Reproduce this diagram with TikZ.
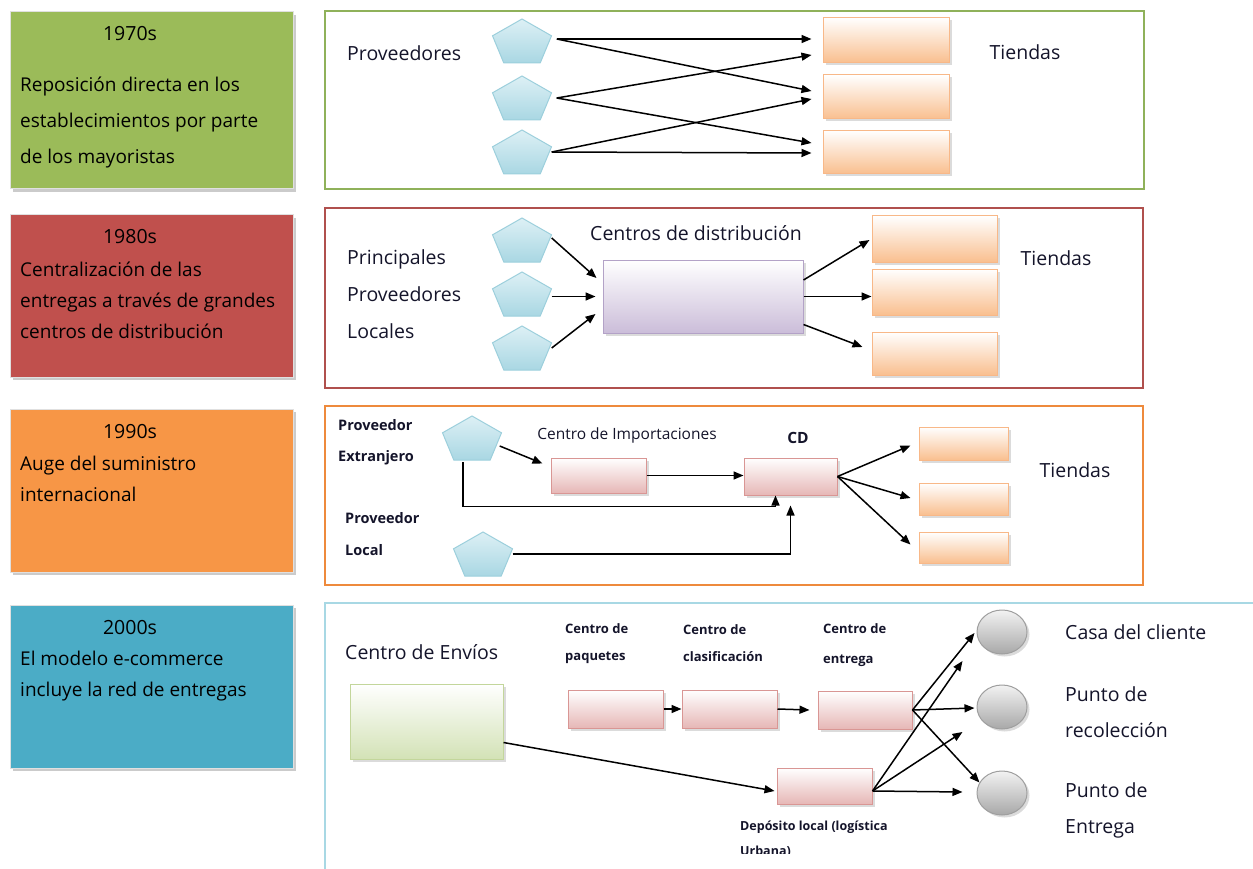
\documentclass[tikz,border=0pt]{standalone}
\usepackage{fontspec}
\setmainfont{Open Sans}
\usetikzlibrary{arrows.meta,calc,shadows,shapes.geometric}

\definecolor{eraGreen}{HTML}{9BBB59}
\definecolor{eraRed}{HTML}{C0504D}
\definecolor{eraOrange}{HTML}{F79646}
\definecolor{eraBlue}{HTML}{4BACC6}
\definecolor{frameGreen}{HTML}{8FB15A}
\definecolor{frameRed}{HTML}{B0504D}
\definecolor{frameOrange}{HTML}{EE8A3C}
\definecolor{frameBlue}{HTML}{A8D8E4}
\definecolor{pentTop}{HTML}{DDF0F5}
\definecolor{pentBot}{HTML}{A9D7E3}
\definecolor{pentLine}{HTML}{9CCFDC}
\definecolor{shopBot}{HTML}{F9BF8F}
\definecolor{shopLine}{HTML}{F8B888}
\definecolor{pinkBot}{HTML}{E6B7B6}
\definecolor{pinkLine}{HTML}{D99694}
\definecolor{lilacBot}{HTML}{CBBDD9}
\definecolor{lilacLine}{HTML}{B3A2C7}
\definecolor{leafBot}{HTML}{D3E2B6}
\definecolor{leafLine}{HTML}{C3D69B}
\definecolor{inkText}{HTML}{14142A}

% pentagon drawn over an invisible anchor box
\newcommand\pentnode[3]{%
  \node[pentbox] (#1) at (#2,#3) {};
  \shade[pentfill] ($(#1.center)+(0pt,22pt)$) -- ($(#1.center)+(29.5pt,5.2pt)$)
    -- ($(#1.center)+(18.2pt,-22pt)$) -- ($(#1.center)+(-18.2pt,-22pt)$)
    -- ($(#1.center)+(-29.5pt,5.2pt)$) -- cycle;}

\begin{document}
\begin{tikzpicture}[x=1pt,y=-1pt,
  era/.style={rectangle, inner sep=0, minimum width=283, minimum height=#1,
    draw=white!88!black, line width=1pt,
    drop shadow={shadow xshift=3pt, shadow yshift=-3pt, fill=black!45, opacity=.45}},
  yeartxt/.style={font=\fontsize{19.5}{23}\selectfont, inner sep=0, text=black},
  eratxt/.style={font=\fontsize{19}{#1}\selectfont, inner sep=0, anchor=west, align=left, text=black},
  lbl/.style={font=\fontsize{19.5}{#1}\selectfont, inner sep=0, align=left, text=inkText},
  lbl/.default=23,
  small/.style={font=\bfseries\fontsize{14.5}{#1}\selectfont, inner sep=0, anchor=west, align=left, text=inkText},
  tiny/.style={font=\bfseries\fontsize{13}{#1}\selectfont, inner sep=0, anchor=west, align=left, text=inkText},
  pentbox/.style={rectangle, inner sep=0, minimum width=59, minimum height=44},
  pentfill/.style={top color=pentTop, bottom color=pentBot, draw=pentLine, line width=1pt},
  boxshadow/.style={drop shadow={shadow xshift=2.5pt, shadow yshift=-2.5pt, fill=black!40, opacity=.35}},
  shop/.style={rectangle, inner sep=0, minimum width=#1, top color=white, bottom color=shopBot,
    draw=shopLine, line width=1pt, boxshadow},
  pink/.style={rectangle, inner sep=0, minimum width=95, minimum height=37, top color=white,
    bottom color=pinkBot, draw=pinkLine, line width=1pt, boxshadow},
  dot/.style={ellipse, inner sep=0, minimum width=50, minimum height=44, top color=gray!10,
    bottom color=gray!68, draw=gray!75, line width=1pt, boxshadow},
  arr/.style={-{Triangle[length=10pt,width=8pt]}, line width=1.5pt, black},
  ]
\useasboundingbox (0,0) rectangle (1253,869);

% ---------- era boxes on the left ----------
\node[era=177, fill=eraGreen]  (e70) at (151.5,100.5) {};
\node[era=162, fill=eraRed]    (e80) at (151.5,296) {};
\node[era=163, fill=eraOrange] (e90) at (151.5,490.5) {};
\node[era=163, fill=eraBlue]   (e00) at (151.5,686.5) {};

\node[yeartxt] (y70) at (130,34) {1970s};
\node[eratxt=36] (d70) at (20,123) {Reposición directa en los\\establecimientos por parte\\de los mayoristas};
\node[yeartxt] (y80) at (130,237) {1980s};
\node[eratxt=31] (d80) at (20,300) {Centralización de las\\entregas a través de grandes\\centros de distribución};
\node[yeartxt] (y90) at (130,432) {1990s};
\node[eratxt=31] (d90) at (20,479) {Auge del suministro\\internacional};
\node[yeartxt] (y00) at (130,628) {2000s};
\node[eratxt=31] (d00) at (20,676) {El modelo e-commerce\\incluye la red de entregas};

% ---------- panel frames ----------
\draw[frameGreen, line width=1.3pt] (325,11) rectangle (1144,189);
\draw[frameRed, line width=1.3pt] (325,208) rectangle (1143,388);
\draw[frameOrange, line width=1.3pt] (325,406) rectangle (1143,585);
\draw[frameBlue, line width=1.3pt] (1253,603) -- (325,603) -- (325,869);

% ---------- 1970s: direct replenishment ----------
\node[lbl, anchor=west] (prov1) at (347,53) {Proveedores};
\node[lbl] (tiendas1) at (1025,52) {Tiendas};
\pentnode{a1}{522}{41}
\pentnode{a2}{522}{98}
\pentnode{a3}{522}{152}
\node[shop=126, minimum height=45] (t1) at (886,40) {};
\node[shop=126, minimum height=44] (t2) at (886,97) {};
\node[shop=126, minimum height=43] (t3) at (886,152) {};
\draw[arr] ($(a1.east)+(5,-2)$) -- ($(t1.west)+(-11,-1)$);
\draw[arr] ($(a1.east)+(5,-2)$) -- ($(t2.west)+(-11,-6)$);
\draw[arr] ($(a2.east)+(5,0)$) -- ($(t1.west)+(-11,15)$);
\draw[arr] ($(a2.east)+(5,0)$) -- ($(t3.west)+(-11,-9)$);
\draw[arr] (a3.east) -- ($(t2.west)+(-11,2)$);
\draw[arr] (a3.east) -- ($(t3.west)+(-11,1)$);

% ---------- 1980s: distribution centres ----------
\node[lbl=37, anchor=west] (prov2) at (347,294) {Principales\\Proveedores\\Locales};
\node[lbl] (cdlbl) at (696,233) {Centros de distribución};
\node[lbl] (tiendas2) at (1056,258) {Tiendas};
\pentnode{b1}{522}{240}
\pentnode{b2}{522}{294}
\pentnode{b3}{522}{348}
\node[rectangle, inner sep=0, minimum width=200, minimum height=73, top color=white,
  bottom color=lilacBot, draw=lilacLine, line width=1pt, boxshadow] (dc) at (703,296.5) {};
\node[shop=125, minimum height=46] (s1) at (934.5,239) {};
\node[shop=125, minimum height=46] (s2) at (934.5,292) {};
\node[shop=125, minimum height=43] (s3) at (934.5,353.5) {};
\draw[arr] ($(b1.east)+(0,-2)$) -- ($(dc.west)+(-6,-18.5)$);
\draw[arr] (b2.east |- dc.west) -- ($(dc.west)+(-7,0)$);
\draw[arr] (b3.east) -- ($(dc.west)+(-7,17.5)$);
\draw[arr] ($(dc.east)+(0,-16.5)$) -- ($(s1.west)+(-2,1)$);
\draw[arr] (dc.east) -- (dc.east -| s2.west);
\draw[arr] ($(dc.east)+(0,28)$) -- ($(s3.west)+(-9,-6.5)$);

% ---------- 1990s: international supply ----------
\node[small=31] (pext) at (338,442.5) {Proveedor\\Extranjero};
\node[small=32] (ploc) at (345,534) {Proveedor\\Local};
\node[font=\fontsize{15.5}{18}\selectfont, inner sep=0, text=inkText] (implbl) at (627,435) {Centro de Importaciones};
\node[font=\bfseries\fontsize{15.5}{18}\selectfont, inner sep=0, text=inkText] (cdname) at (798,438) {CD};
\node[lbl] (tiendas3) at (1075,470) {Tiendas};
\pentnode{c1}{472}{438}
\pentnode{c2}{483}{554}
\node[pink, minimum height=35] (imp) at (598.5,475.5) {};
\node[pink, minimum width=93] (cd) at (790.5,476.5) {};
\node[shop=89, minimum height=33] (u1) at (963.5,443.5) {};
\node[shop=89, minimum height=32] (u2) at (963.5,499) {};
\node[shop=89, minimum height=31] (u3) at (963.5,547.5) {};
\draw[arr] ($(c1.east)+(-2,8)$) -- ($(imp.north west)+(-8,6)$);
\draw[arr] (imp.east) -- (imp.east -| cd.west);
\draw[arr] ($(c1.south)+(-9,2)$) |- ($(cd.south)+(-15,11)$) -- ($(cd.south)+(-15,0)$);
\draw[arr] (c2.east) -| ($(cd.south)+(0,10)$);
\draw[arr] (cd.east) -- ($(u1.west)+(-8,2)$);
\draw[arr] (cd.east) -- ($(u2.west)+(-8,-1)$);
\draw[arr] (cd.east) -- ($(u3.west)+(-8,-3)$);

% ---------- 2000s: e-commerce delivery network ----------
\node[lbl, anchor=west] (envlbl) at (345,652) {Centro de Envíos};
\node[tiny=27] (paqlbl) at (565,643.5) {Centro de\\paquetes};
\node[tiny=27] (claslbl) at (683,643.5) {Centro de\\clasificación};
\node[tiny=30] (entlbl) at (823,645) {Centro de\\entrega};
\node[lbl, anchor=west] (casa) at (1065,632) {Casa del cliente};
\node[lbl=36, anchor=west] (recol) at (1065,712) {Punto de\\recolección};
\node[lbl=36, anchor=west] (entr) at (1065,810) {Punto de\\Entrega};

\node[rectangle, inner sep=0, minimum width=153, minimum height=75, top color=white,
  bottom color=leafBot, draw=leafLine, line width=1pt, boxshadow] (env) at (426.5,721.5) {};
\node[pink, minimum height=38] (paq) at (615.5,709) {};
\node[pink, minimum height=38] (clas) at (729.5,709) {};
\node[pink, minimum width=94, minimum height=38] (ent) at (865,710) {};
\node[pink, minimum height=36] (dep) at (824.5,786) {};
\node[dot] (k1) at (1002,632) {};
\node[dot] (k2) at (1002,707) {};
\node[dot] (k3) at (1002,793) {};

% the second line of the depot label runs off the lower edge
\begin{scope}
\clip (0,0) rectangle (1253,853);
\node[tiny=25, font=\bfseries\fontsize{12.5}{25}\selectfont] (deplbl) at (740,839) {Depósito local (logística\\Urbana)};
\end{scope}

\coordinate (m1) at ($(k1.west)+(-14,29)$);
\coordinate (m2) at ($(k2.west)+(-14,25)$);
\coordinate (m3) at ($(k3.west)+(-14,-1)$);

\draw[arr] (paq.east) -- (clas.west);
\draw[arr] (clas.east) -- ($(ent.west)+(-8,0)$);
\draw[arr] ($(env.east)+(0,21)$) -- ($(dep.west)+(-2,5)$);
\draw[arr] (ent.east) -- ($(k1.west)+(-2,1)$);
\draw[arr] (ent.east) -- ($(k2.west)+(-2,1)$);
\draw[arr] (ent.east) -- (k3.155);
\draw[arr] ($(dep.east)+(0,5)$) -- (m1);
\draw[arr] ($(dep.east)+(0,5)$) -- (m2);
\draw[arr] ($(dep.east)+(0,5)$) -- (m3);
\end{tikzpicture}
\end{document}
